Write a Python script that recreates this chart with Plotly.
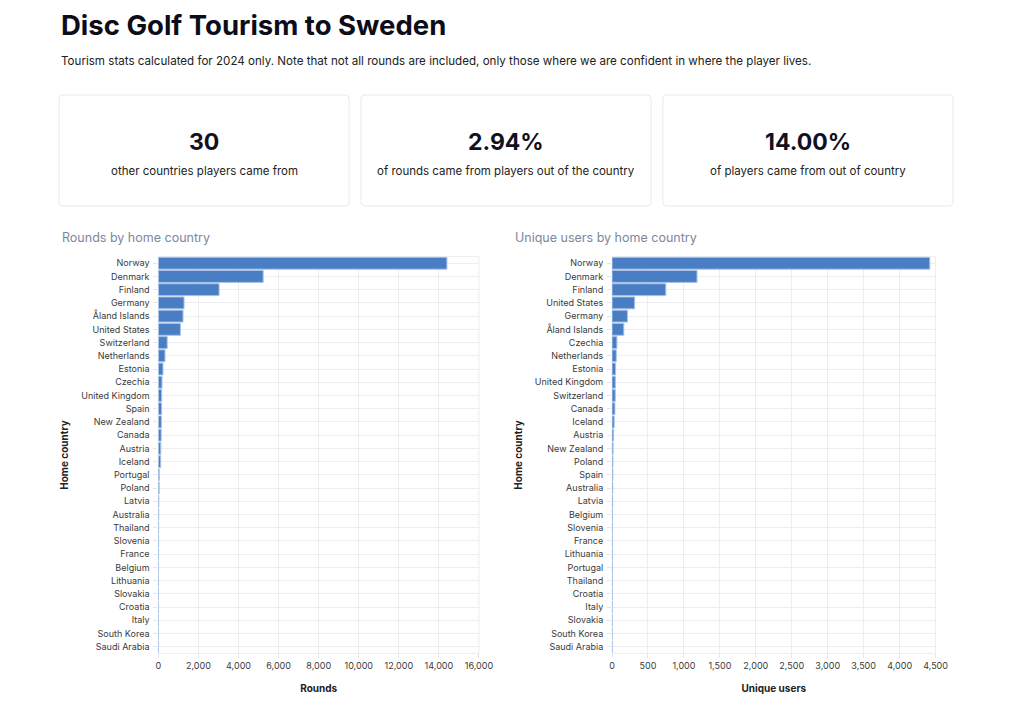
import plotly.graph_objects as go

W, H = 1024, 710

# ---------------- data ----------------
rounds_countries = ["Norway", "Denmark", "Finland", "Germany", "Åland Islands", "United States",
                    "Switzerland", "Netherlands", "Estonia", "Czechia", "United Kingdom", "Spain",
                    "New Zealand", "Canada", "Austria", "Iceland", "Portugal", "Poland", "Latvia",
                    "Australia", "Thailand", "Slovenia", "France", "Belgium", "Lithuania",
                    "Slovakia", "Croatia", "Italy", "South Korea", "Saudi Arabia"]
rounds_values = [14400, 5230, 3030, 1280, 1230, 1100, 440, 330, 230, 180, 165, 160, 150, 140,
                 120, 115, 45, 40, 22, 16, 13, 11, 9, 8, 7, 6, 4, 3, 2, 1]

users_countries = ["Norway", "Denmark", "Finland", "United States", "Germany", "Åland Islands",
                   "Czechia", "Netherlands", "Estonia", "United Kingdom", "Switzerland", "Canada",
                   "Iceland", "Austria", "New Zealand", "Poland", "Spain", "Australia", "Latvia",
                   "Belgium", "Slovenia", "France", "Lithuania", "Portugal", "Thailand",
                   "Croatia", "Italy", "Slovakia", "South Korea", "Saudi Arabia"]
users_values = [4420, 1182, 748, 315, 214, 164, 68, 59, 50, 46, 45, 40, 30, 22, 15, 12, 11, 10,
                9, 6, 5, 5, 4, 4, 3, 2, 2, 1, 1, 1]

kpi_values = ["30", "2.94%", "14.00%"]
kpi_labels = ["other countries players came from",
              "of rounds came from players out of the country",
              "of players came from out of country"]

title_text = "Disc Golf Tourism to Sweden"
subtitle_text = ("Tourism stats calculated for 2024 only. Note that not all rounds are included, "
                 "only those where we are confident in where the player lives.")
chart_titles = ["Rounds by home country", "Unique users by home country"]
x_titles = ["Rounds", "Unique users"]
y_title = "Home country"

# ---------------- helpers ----------------
def px(x):
    return x / W

def py(y):
    return 1 - y / H

FONT = "Inter, Roboto, sans-serif"
BAR = "#4a7ec4"
BAR_LINE = "#a8c2e6"
GRID = "#eceef3"
TICK = "#3a3a3a"

fig = go.Figure()

fig.add_trace(go.Bar(
    x=rounds_values, y=rounds_countries, orientation="h",
    marker=dict(color=BAR, line=dict(color=BAR_LINE, width=1)),
    xaxis="x", yaxis="y", showlegend=False))
fig.add_trace(go.Bar(
    x=users_values, y=users_countries, orientation="h",
    marker=dict(color=BAR, line=dict(color=BAR_LINE, width=1)),
    xaxis="x2", yaxis="y2", showlegend=False))

y_top, y_bot = 256.6, 653.4
axis_common = dict(
    showgrid=True, gridcolor=GRID, gridwidth=1, zeroline=False,
    showline=False, ticks="outside", ticklen=4, tickcolor="#e3e5ea",
    tickfont=dict(family=FONT, size=9, color=TICK),
)

xcommon = dict(axis_common, tickformat=",", separatethousands=True,
               title=dict(font=dict(family=FONT, size=10, color="#222"), standoff=14))
ytitle = dict(text=f"<b>{y_title}</b>", font=dict(family=FONT, size=10, color="#222"), standoff=10)

fig.update_layout(
    width=W, height=H, autosize=False,
    margin=dict(l=0, r=0, t=0, b=0),
    paper_bgcolor="white", plot_bgcolor="white",
    bargap=0.1,
    font=dict(family=FONT),
    xaxis=dict(xcommon, domain=[px(158), px(484)], range=[0, 16000], dtick=2000,
               anchor="y", title=dict(xcommon["title"], text=f"<b>{x_titles[0]}</b>")),
    xaxis2=dict(xcommon, domain=[px(619.3), px(948.3)], range=[0, 4500], dtick=500,
                anchor="y2", title=dict(xcommon["title"], text=f"<b>{x_titles[1]}</b>")),
    yaxis=dict(axis_common, domain=[py(y_bot), py(y_top)], anchor="x",
               categoryorder="array", categoryarray=rounds_countries, autorange="reversed",
               ticklabelstandoff=2, title=ytitle),
    yaxis2=dict(axis_common, domain=[py(y_bot), py(y_top)], anchor="x2",
                categoryorder="array", categoryarray=users_countries, autorange="reversed",
                ticklabelstandoff=2, title=ytitle),
)

# frame lines around plot areas
for (x0, x1) in [(158, 484), (619.3, 948.3)]:
    fig.add_shape(type="rect", xref="paper", yref="paper",
                  x0=px(x0), x1=px(x1), y0=py(y_bot), y1=py(y_top),
                  line=dict(color=GRID, width=1), layer="below")

# ---------------- cards ----------------
cards = [(57, 352), (364, 659), (671, 966)]
cy0, cy1 = 95, 206
r = 4
for (x0, x1) in cards:
    rx, ry = r / W, r / H
    X0, X1, Y0, Y1 = px(x0), px(x1), py(cy1), py(cy0)
    path = (f"M {X0+rx},{Y1} L {X1-rx},{Y1} Q {X1},{Y1} {X1},{Y1-ry} "
            f"L {X1},{Y0+ry} Q {X1},{Y0} {X1-rx},{Y0} L {X0+rx},{Y0} "
            f"Q {X0},{Y0} {X0},{Y0+ry} L {X0},{Y1-ry} Q {X0},{Y1} {X0+rx},{Y1} Z")
    fig.add_shape(type="path", path=path, xref="paper", yref="paper",
                  line=dict(color="#e9eaee", width=1), fillcolor="white", layer="below")

for (x0, x1), v, lab in zip(cards, kpi_values, kpi_labels):
    cx = px((x0 + x1) / 2)
    fig.add_annotation(x=cx, y=py(142), xref="paper", yref="paper", text=f"<b>{v}</b>",
                       showarrow=False, xanchor="center", yanchor="middle",
                       font=dict(family=FONT, size=23, color="#111122"))
    fig.add_annotation(x=cx, y=py(171), xref="paper", yref="paper", text=lab,
                       showarrow=False, xanchor="center", yanchor="middle",
                       font=dict(family=FONT, size=11.5, color="#222"))

# ---------------- titles ----------------
fig.add_annotation(x=px(57), y=py(25), xref="paper", yref="paper", text=f"<b>{title_text}</b>",
                   showarrow=False, xanchor="left", yanchor="middle",
                   font=dict(family=FONT, size=27.5, color="#0d0d1a"))
fig.add_annotation(x=px(57), y=py(61), xref="paper", yref="paper", text=subtitle_text,
                   showarrow=False, xanchor="left", yanchor="middle",
                   font=dict(family=FONT, size=11.6, color="#222"))

for xx, t in zip([58, 519], chart_titles):
    fig.add_annotation(x=px(xx), y=py(237), xref="paper", yref="paper", text=t,
                       showarrow=False, xanchor="left", yanchor="middle",
                       font=dict(family=FONT, size=12.5, color="#7d879e"))

fig.write_html("out.html",
               config={"responsive": False, "displayModeBar": False},
               post_script="document.body.style.margin='0';document.body.style.overflow='hidden';")
